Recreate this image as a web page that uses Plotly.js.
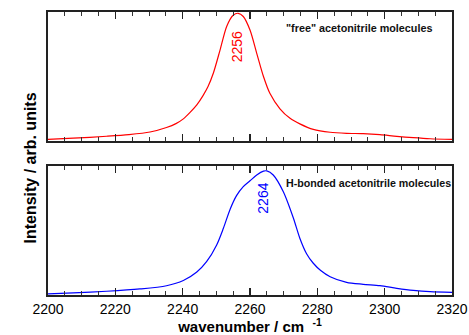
<!DOCTYPE html>
<html>
<head>
<meta charset="utf-8">
<script src="https://cdn.plot.ly/plotly-3.0.1.min.js"></script>
<style>html,body{margin:0;padding:0;background:#fff;}#chart{width:469px;height:335px;}</style>
</head>
<body>
<div id="chart"></div>
<script>
// Data
const freeWavenumber = [2200, 2207.5, 2217.4, 2224, 2230.3, 2235.2, 2238, 2240.2, 2242.2, 2244.2, 2246, 2247.5, 2249.1, 2251.1, 2253.1, 2255.0, 2256.5, 2258, 2260, 2262, 2264, 2265.9, 2268.9, 2271.9, 2274.8, 2278.8, 2283.8, 2288.7, 2293.6, 2298.6, 2303.6, 2308.5, 2313.5, 2320];
const freeIntensity = [0.013, 0.022, 0.037, 0.05, 0.07, 0.105, 0.135, 0.172, 0.222, 0.28, 0.35, 0.42, 0.525, 0.705, 0.89, 0.975, 0.99, 0.965, 0.86, 0.68, 0.50, 0.37, 0.25, 0.176, 0.133, 0.09, 0.068, 0.06, 0.057, 0.049, 0.036, 0.026, 0.018, 0.013];

const bondedWavenumber = [2200, 2207.5, 2217.4, 2227.3, 2235.2, 2240.2, 2244.2, 2247.1, 2250.1, 2252.1, 2254.1, 2256, 2258, 2260, 2262, 2264, 2265, 2266.9, 2269.9, 2272.9, 2274.8, 2276.8, 2278.8, 2281, 2283.8, 2288.7, 2293.6, 2298.6, 2303.6, 2308.5, 2313.5, 2320];
const bondedIntensity = [0.008, 0.016, 0.029, 0.047, 0.072, 0.112, 0.178, 0.258, 0.388, 0.517, 0.665, 0.77, 0.84, 0.885, 0.93, 0.96, 0.962, 0.93, 0.80, 0.595, 0.44, 0.32, 0.246, 0.19, 0.142, 0.098, 0.083, 0.072, 0.052, 0.036, 0.026, 0.021];

const xTickValues = [2200, 2220, 2240, 2260, 2280, 2300, 2320];
const xTickLabels = ["2200", "2220", "2240", "2260", "2280", "2300", "2320"];

const freePeak = {x: 2256, y: 0.73, label: "2256"};
const bondedPeak = {x: 2264, y: 0.75, label: "2264"};
const freeLabel = "\"free\" acetonitrile molecules";
const bondedLabel = "H-bonded acetonitrile molecules";

const FONT = "Liberation Sans, Arial, Helvetica, sans-serif";

const traces = [
  {x: freeWavenumber, y: freeIntensity, type: "scatter", mode: "lines", line: {color: "#ff0000", width: 1.2, shape: "spline", smoothing: 0.8}, xaxis: "x", yaxis: "y", hoverinfo: "skip"},
  {x: bondedWavenumber, y: bondedIntensity, type: "scatter", mode: "lines", line: {color: "#0000ff", width: 1.2, shape: "spline", smoothing: 0.8}, xaxis: "x2", yaxis: "y2", hoverinfo: "skip"}
];

const xCommon = {
  range: [2200, 2320], showline: true, mirror: "ticks", linecolor: "#222", linewidth: 2,
  ticks: "inside", ticklen: 7, tickwidth: 1.5, tickcolor: "#222",
  tickvals: xTickValues, ticktext: xTickLabels,
  minor: {dtick: 5, tick0: 2200, ticks: "inside", ticklen: 4, tickwidth: 1, tickcolor: "#333"},
  showgrid: false, zeroline: false, fixedrange: true
};
const yCommon = {
  range: [0, 1], showline: true, mirror: true, linecolor: "#222", linewidth: 2,
  ticks: "", showticklabels: false, showgrid: false, zeroline: false, fixedrange: true
};

const layout = {
  width: 469, height: 335,
  margin: {l: 48, r: 17, t: 12, b: 40},
  paper_bgcolor: "#fff", plot_bgcolor: "#fff",
  showlegend: false,
  font: {family: FONT, color: "#000"},
  xaxis: Object.assign({}, xCommon, {anchor: "y", showticklabels: false}),
  yaxis: Object.assign({}, yCommon, {domain: [0.544, 1], anchor: "x"}),
  xaxis2: Object.assign({}, xCommon, {anchor: "y2", showticklabels: true, tickfont: {family: FONT, size: 14, color: "#000"},
    title: {text: "<b>wavenumber / cm</b>&nbsp;&nbsp;<sup><b>-1</b></sup>", font: {family: FONT, size: 15, color: "#000"}, standoff: 4}}),
  yaxis2: Object.assign({}, yCommon, {domain: [0, 0.456], anchor: "x2"}),
  annotations: [
    {xref: "x", yref: "y", x: freePeak.x, y: freePeak.y, text: freePeak.label, textangle: -90, showarrow: false,
     font: {family: FONT, size: 14, color: "#ff0000"}},
    {xref: "x2", yref: "y2", x: bondedPeak.x, y: bondedPeak.y, text: bondedPeak.label, textangle: -90, showarrow: false,
     font: {family: FONT, size: 14, color: "#0000ff"}},
    {xref: "x", yref: "y", x: 2270.1, y: 0.874, xanchor: "left", text: "<b>" + freeLabel + "</b>", showarrow: false,
     font: {family: FONT, size: 10.8, color: "#111"}},
    {xref: "x2", yref: "y2", x: 2270.1, y: 0.87, xanchor: "left", text: "<b>" + bondedLabel + "</b>", showarrow: false,
     font: {family: FONT, size: 10.7, color: "#111"}},
    {xref: "paper", yref: "paper", x: -0.069, y: 0.449, text: "<b>Intensity / arb. units</b>", textangle: -90, showarrow: false,
     font: {family: FONT, size: 16, color: "#000"}}
  ]
};

Plotly.newPlot("chart", traces, layout, {staticPlot: true, displayModeBar: false});
</script>
</body>
</html>
